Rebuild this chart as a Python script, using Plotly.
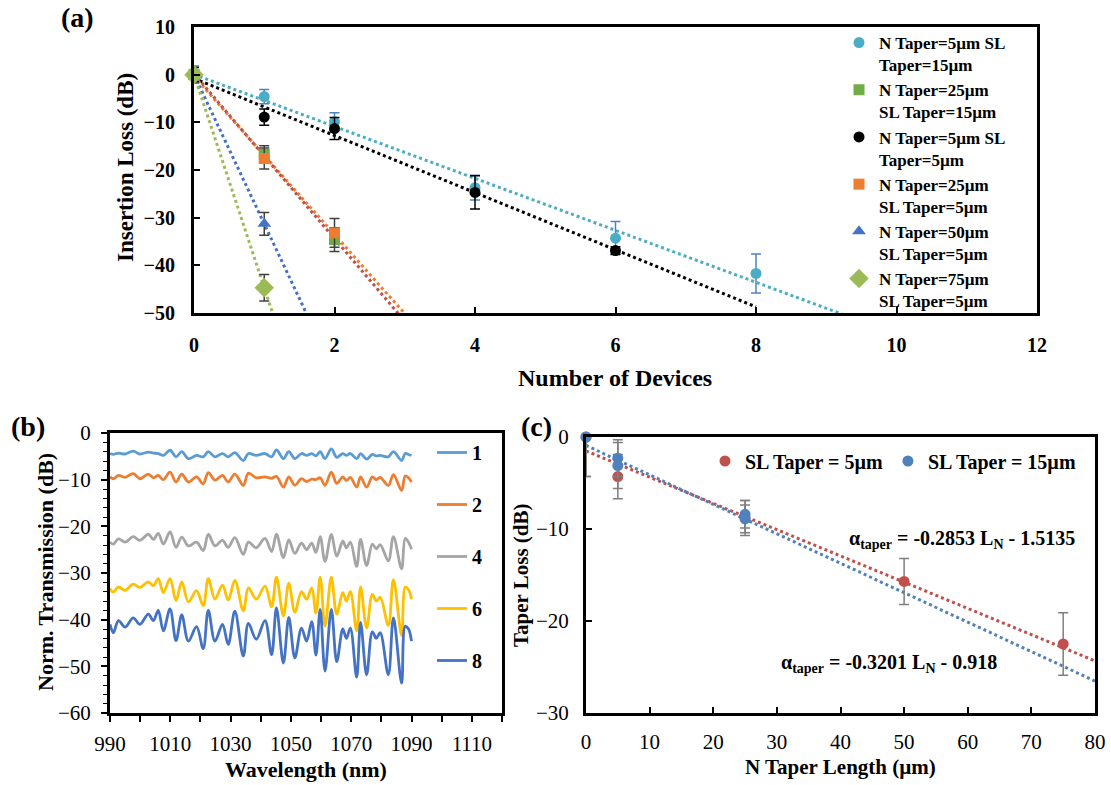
import numpy as np
import plotly.graph_objects as go

W, H = 1111, 785
SERIF = "Liberation Serif"

# ---------------- Panel (a): insertion loss vs number of devices ----------------
devices_cyan = [0, 1, 2, 4, 6, 8]
il_cyan = [0, -4.6, -9.9, -23.7, -34.3, -41.7]
err_cyan = [1.8, 1.5, 1.9, 2.6, 3.5, 4.1]

devices_black = [0, 1, 2, 4, 6]
il_black = [0, -8.9, -11.3, -24.7, -36.9]
err_black = [1.5, 1.7, 2.3, 3.5, 0.8]

devices_short = [0, 1, 2]
il_green_sq = [0, -16.7, -34.6]
err_green_sq = [0.8, 1.8, 2.5]
il_orange = [0, -17.6, -33.2]
err_orange = [0.8, 2.2, 3.0]

devices_one = [0, 1]
il_triangle = [0, -31.3]
err_triangle = [0.8, 2.4]
il_diamond = [0, -44.7]
err_diamond = [0.8, 2.8]

legend_a = [
    "N Taper=5µm SL<br>Taper=15µm",
    "N Taper=25µm<br>SL Taper=15µm",
    "N Taper=5µm SL<br>Taper=5µm",
    "N Taper=25µm<br>SL Taper=5µm",
    "N Taper=50µm<br>SL Taper=5µm",
    "N Taper=75µm<br>SL Taper=5µm",
]

# ---------------- Panel (b): normalized transmission spectra ----------------
wavelength = [
    990.0, 991.1, 992.8, 995.0, 997.7, 999.9, 1002.7, 1004.4, 1006.0, 1007.7,
    1009.9, 1011.9, 1013.8, 1016.0, 1018.7, 1020.9, 1022.6, 1024.8, 1027.3, 1029.2,
    1031.4, 1034.2, 1035.9, 1038.5, 1041.4, 1043.6, 1045.2, 1047.5, 1049.3, 1051.3,
    1053.5, 1055.2, 1056.9, 1058.3, 1059.7, 1061.3, 1063.4, 1065.2, 1067.2, 1068.4,
    1069.7, 1071.8, 1073.1, 1075.1, 1077.0, 1078.3, 1079.6, 1082.3, 1084.0, 1086.7,
    1087.9, 1089.0, 1090.0,
]
trans_1 = [
    -4.4, -4.6, -4.3, -4.5, -3.9, -4.5, -4.1, -4.3, -4.4, -4.8,
    -3.7, -5.1, -4.0, -5.5, -4.8, -5.1, -4.0, -5.1, -4.4, -5.1,
    -4.2, -5.9, -4.4, -4.8, -4.4, -5.1, -3.6, -5.5, -4.0, -5.5,
    -4.4, -4.8, -4.4, -4.9, -4.0, -5.5, -3.4, -5.2, -4.4, -4.8,
    -4.4, -5.5, -4.4, -5.6, -4.6, -4.9, -4.8, -5.1, -4.0, -5.9,
    -4.4, -4.6, -4.8,
]
trans_2 = [
    -9.4, -9.8, -9.1, -9.5, -8.7, -9.8, -8.8, -9.6, -9.1, -10.0,
    -8.4, -10.5, -8.8, -10.5, -9.4, -10.9, -8.5, -10.1, -9.1, -10.5,
    -8.8, -11.2, -8.6, -9.6, -9.4, -9.7, -9.3, -11.6, -9.4, -11.2,
    -9.8, -10.4, -9.9, -10.0, -9.6, -11.2, -8.4, -10.8, -9.4, -10.2,
    -9.5, -11.6, -9.4, -11.6, -9.4, -10.0, -9.5, -11.2, -8.9, -12.3,
    -9.2, -9.6, -10.5,
]
trans_4 = [
    -23.4, -23.8, -22.7, -23.4, -22.2, -23.0, -21.7, -22.8, -21.5, -23.8,
    -21.2, -24.5, -22.3, -24.2, -23.4, -25.2, -21.7, -24.2, -23.0, -24.5,
    -22.4, -26.0, -23.4, -24.6, -22.6, -25.4, -21.7, -26.7, -22.9, -25.8,
    -23.6, -25.0, -23.6, -25.6, -22.2, -27.5, -21.8, -26.4, -23.2, -24.6,
    -23.4, -28.6, -22.8, -28.4, -23.8, -24.8, -23.9, -27.4, -22.2, -29.1,
    -22.6, -23.4, -24.9,
]
trans_6 = [
    -33.4, -34.1, -33.0, -33.7, -32.4, -33.1, -31.9, -32.7, -31.2, -34.2,
    -31.2, -35.9, -31.9, -36.2, -33.8, -37.0, -31.2, -35.6, -32.6, -35.8,
    -31.6, -38.1, -33.2, -35.6, -32.8, -37.2, -30.9, -39.2, -32.2, -38.4,
    -34.0, -35.6, -33.2, -38.6, -30.9, -41.4, -30.9, -38.8, -34.2, -36.0,
    -34.0, -42.4, -33.0, -41.8, -34.6, -36.0, -35.2, -41.2, -31.4, -43.4,
    -33.0, -33.6, -35.6,
]
trans_8 = [
    -41.0, -42.8, -40.2, -41.6, -39.6, -41.0, -38.8, -40.2, -38.0, -42.4,
    -37.7, -44.5, -39.0, -44.6, -41.5, -46.2, -38.0, -44.6, -41.0, -45.3,
    -38.2, -47.8, -40.8, -44.2, -40.2, -47.5, -37.5, -49.3, -39.5, -48.2,
    -41.8, -44.6, -40.4, -47.6, -37.8, -51.0, -37.8, -49.0, -42.0, -44.0,
    -41.8, -52.3, -40.6, -51.8, -42.6, -44.0, -42.8, -51.8, -39.6, -53.6,
    -41.4, -42.0, -44.6,
]
device_counts_b = ["1", "2", "4", "6", "8"]

# ---------------- Panel (c): taper loss vs N taper length ----------------
nlen_red = [0, 5, 25, 50, 75]
loss_red = [0, -4.3, -8.8, -15.7, -22.5]
err_red_plus = [0, 2.4, 1.9, 2.5, 3.4]
err_red_minus = [4.3, 2.4, 1.9, 2.5, 3.4]
nlen_blue = [0, 5, 5, 25, 25]
loss_blue = [0, -2.3, -3.1, -8.4, -8.9]
err_blue_plus = [0, 2.0, 2.5, 1.5, 1.5]
err_blue_minus = [4.3, 2.0, 2.5, 1.5, 1.5]
fit_red = (-0.2853, -1.5135)
fit_blue = (-0.3201, -0.918)
legend_c = ["SL Taper = 5µm", "SL Taper = 15µm"]


def px(x):
    return x / W


def py(y):
    return 1 - y / H


fig = go.Figure()

# ---- (a) trend lines ----
def trend(xs, ys, x_end, color):
    k, b = np.polyfit(xs, ys, 1)
    xx = np.array([0.0, x_end])
    fig.add_trace(go.Scatter(
        x=xx, y=k * xx + b, mode="lines", xaxis="x", yaxis="y",
        line=dict(color=color, width=3, dash="dot"), showlegend=False,
        hoverinfo="skip"))

trend(devices_cyan, il_cyan, 12, "#4BACC6")
trend(devices_black, il_black, 8, "#000000")
trend(devices_short, il_orange, 12, "#ED7D31")
trend(devices_short, il_green_sq, 12, "#C0504D")
trend(devices_one, il_triangle, 12, "#4472C4")
trend(devices_one, il_diamond, 12, "#9BBB59")

# ---- (a) markers ----
series_a = [
    (devices_cyan, il_cyan, err_cyan, "#4BACC6", "circle", 11, "#4F81BD"),
    (devices_short, il_green_sq, err_green_sq, "#70AD47", "square", 11, "#404040"),
    (devices_black, il_black, err_black, "#000000", "circle", 11, "#000000"),
    (devices_short, il_orange, err_orange, "#ED7D31", "square", 11, "#404040"),
    (devices_one, il_triangle, err_triangle, "#4472C4", "triangle-up", 12, "#404040"),
    (devices_one, il_diamond, err_diamond, "#9BBB59", "diamond", 15, "#404040"),
]
for (xs, ys, es, col, sym, size, ecol), name in zip(series_a, legend_a):
    fig.add_trace(go.Scatter(
        x=xs, y=ys, mode="markers", name=name, xaxis="x", yaxis="y",
        marker=dict(color=col, symbol=sym, size=size, line=dict(width=0)),
        error_y=dict(type="data", array=es, visible=True, color=ecol,
                     thickness=1.5, width=5),
        cliponaxis=False, legend="legend"))

# ---- (b) spectra ----
colors_b = ["#5B9BD5", "#ED7D31", "#A5A5A5", "#FFC000", "#4472C4"]
for ys, col, name in zip([trans_1, trans_2, trans_4, trans_6, trans_8],
                         colors_b, device_counts_b):
    fig.add_trace(go.Scatter(
        x=wavelength, y=ys, mode="lines", name=name, xaxis="x2", yaxis="y2",
        line=dict(color=col, width=2.8, shape="spline", smoothing=1.0),
        legend="legend2", legendgroup="b" + name))

# ---- (c) fits and points ----
for (k, b), col in [(fit_red, "#C0504D"), (fit_blue, "#4F81BD")]:
    xx = np.array([0.0, 80.0])
    fig.add_trace(go.Scatter(
        x=xx, y=k * xx + b, mode="lines", xaxis="x3", yaxis="y3",
        line=dict(color=col, width=3, dash="dot"), showlegend=False,
        hoverinfo="skip"))

for xs, ys, ep, em, col, name in [
        (nlen_red, loss_red, err_red_plus, err_red_minus, "#C0504D", legend_c[0]),
        (nlen_blue, loss_blue, err_blue_plus, err_blue_minus, "#4F81BD", legend_c[1])]:
    fig.add_trace(go.Scatter(
        x=xs, y=ys, mode="markers", name=name, xaxis="x3", yaxis="y3",
        marker=dict(color=col, size=11, symbol="circle"),
        error_y=dict(type="data", array=ep, arrayminus=em, visible=True,
                     color="#7F7F7F", thickness=1.5, width=5),
        cliponaxis=False, legend="legend3"))

bold20 = dict(family=SERIF, size=20, color="black", weight="bold")
reg21 = dict(family=SERIF, size=21, color="black")

frame = dict(showline=True, linewidth=3, linecolor="black", mirror=True,
             showgrid=False, zeroline=False, automargin=False)

fig.update_layout(
    width=W, height=H, autosize=False,
    margin=dict(l=0, r=0, t=0, b=0, autoexpand=False),
    paper_bgcolor="white", plot_bgcolor="white",
    font=dict(family=SERIF, color="black"),
    xaxis=dict(domain=[px(194), px(1037)], anchor="y", range=[0, 12], dtick=2,
               ticks="inside", ticklen=6, tickwidth=1.5, tickcolor="black",
               tickfont=bold20, ticklabelstandoff=12, **frame),
    yaxis=dict(domain=[py(313), py(27)], anchor="x", range=[-50, 10], dtick=10,
               ticks="inside", ticklen=6, tickwidth=1.5, tickcolor="black",
               tickfont=bold20, ticklabelstandoff=12, **frame),
    xaxis2=dict(domain=[px(110), px(502)], anchor="y2", range=[990, 1120],
                tick0=990, dtick=20, ticks="outside", ticklen=6, tickwidth=1.5,
                tickcolor="black", tickfont=reg21, ticklabelstandoff=4,
                minor=dict(dtick=10, ticks="outside", ticklen=6, tickwidth=1.5,
                           tickcolor="black"),
                **frame),
    yaxis2=dict(domain=[py(713), py(433)], anchor="x2", range=[-60, 0], dtick=10,
                ticks="outside", ticklen=6, tickwidth=1.5, tickcolor="black",
                tickfont=reg21, ticklabelstandoff=6,
                minor=dict(dtick=2, ticks="outside", ticklen=4, tickwidth=1,
                           tickcolor="black"),
                **frame),
    xaxis3=dict(domain=[px(586), px(1095)], anchor="y3", range=[0, 80], dtick=10,
                ticks="inside", ticklen=6, tickwidth=1.5, tickcolor="black",
                tickfont=reg21, ticklabelstandoff=8, **frame),
    yaxis3=dict(domain=[py(713), py(437)], anchor="x3", range=[-30, 0], dtick=10,
                ticks="inside", ticklen=6, tickwidth=1.5, tickcolor="black",
                tickfont=reg21, ticklabelstandoff=10, **frame),
    legend=dict(x=px(839), y=py(25), xanchor="left", yanchor="top",
                bgcolor="rgba(0,0,0,0)", valign="top", itemwidth=30,
                font=dict(family=SERIF, size=17, color="black", weight="bold"),
                tracegroupgap=0),
    legend2=dict(x=px(432), y=py(433), xanchor="left", yanchor="top",
                 bgcolor="rgba(0,0,0,0)", tracegroupgap=23,
                 font=dict(family=SERIF, size=20, color="black", weight="bold")),
    legend3=dict(x=px(705), y=py(461), xanchor="left", yanchor="middle",
                 orientation="h", bgcolor="rgba(0,0,0,0)", itemwidth=30,
                 font=dict(family=SERIF, size=20, color="black", weight="bold")),
)

annotations = [
    ("(a)", 77, 18, 28, 0),
    ("Insertion Loss (dB)", 126, 168, 23, -90),
    ("Number of Devices", 615, 378, 24, 0),
    ("(b)", 28, 426, 28, 0),
    ("Norm. Transmission (dB)", 45, 572, 22, -90),
    ("Wavelength (nm)", 306, 769, 22, 0),
    ("(c)", 536, 426, 28, 0),
    ("Taper Loss (dB)", 521, 575, 21, -90),
    ("N Taper Length (µm)", 840, 767, 21, 0),
    ("α<sub>taper</sub> = -0.2853 L<sub>N</sub> - 1.5135", 962, 539, 20, 0),
    ("α<sub>taper</sub> = -0.3201 L<sub>N</sub> - 0.918", 889, 663, 20, 0),
]
for text, x, y, size, ang in annotations:
    fig.add_annotation(
        text=text, x=px(x), y=py(y), xref="paper", yref="paper",
        xanchor="center", yanchor="middle", showarrow=False, textangle=ang,
        font=dict(family=SERIF, size=size, color="black", weight="bold"))

fig.write_html(
    "out.html",
    config={"displayModeBar": False},
    post_script="document.body.style.margin='0px';"
                "document.body.style.overflow='hidden';")
